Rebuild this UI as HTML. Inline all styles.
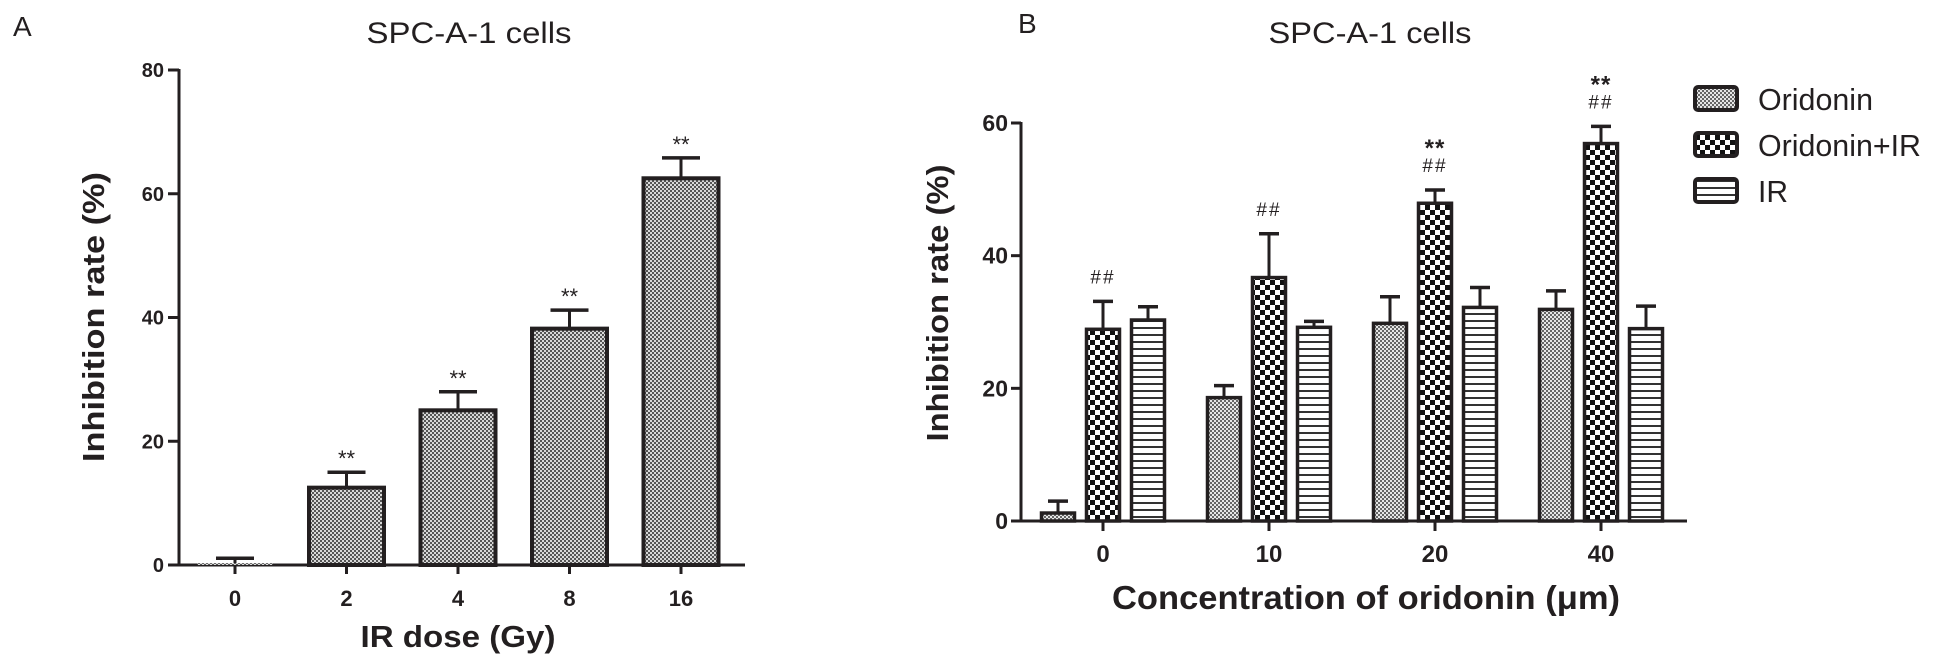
<!DOCTYPE html>
<html><head><meta charset="utf-8"><style>
html,body{margin:0;padding:0;background:#fff;}
svg{display:block;font-family:"Liberation Sans",Arial,sans-serif;}
</style></head><body>
<svg id="fig" width="1948" height="667" viewBox="0 0 1948 667" xmlns="http://www.w3.org/2000/svg">
<defs>
<pattern id="pA" width="4" height="4" patternUnits="userSpaceOnUse"><rect width="4" height="4" fill="#d8d8d8"/><rect width="2" height="2" fill="#555"/><rect x="2" y="2" width="2" height="2" fill="#555"/></pattern>
<pattern id="pOri" width="4" height="4" patternUnits="userSpaceOnUse"><rect width="4" height="4" fill="#e6e6e6"/><rect width="2" height="2" fill="#666"/><rect x="2" y="2" width="2" height="2" fill="#666"/></pattern>
<pattern id="pOIR" width="10" height="10" patternUnits="userSpaceOnUse"><rect width="10" height="10" fill="#fff"/><rect width="5" height="5" fill="#111"/><rect x="5" y="5" width="5" height="5" fill="#111"/></pattern>
<pattern id="pIR" width="7" height="7" patternUnits="userSpaceOnUse"><rect width="7" height="7" fill="#fff"/><rect y="5" width="7" height="2" fill="#333"/></pattern>
</defs>
<g id="panelA"></g>
<g id="panelB"></g>
</svg>
<script>
// Panel A data
const catsA = ["0","2","4","8","16"];
const valsA = [0.3, 12.5, 25.0, 38.2, 62.5];
const errsA = [0.8, 2.5, 3.0, 3.0, 3.3];
const sigA = ["", "**", "**", "**", "**"];
const ticksA = [0, 20, 40, 60, 80];
// Panel B data
const catsB = ["0","10","20","40"];
const seriesNames = ["Oridonin","Oridonin+IR","IR"];
const valsOri = [1.2, 18.6, 29.8, 31.9];
const errsOri = [1.8, 1.8, 4.0, 2.8];
const valsOIR = [28.9, 36.7, 47.9, 56.9];
const errsOIR = [4.2, 6.6, 2.0, 2.6];
const valsIR = [30.3, 29.2, 32.2, 29.0];
const errsIR = [2.0, 0.9, 3.0, 3.4];
const hashB = ["##","##","##","##"];
const starB = ["","","**","**"];
const ticksB = [0, 20, 40, 60];

const NS = "http://www.w3.org/2000/svg";
function mk(parent, tag, attrs, text){
  const e = document.createElementNS(NS, tag);
  for (const k in attrs) e.setAttribute(k, attrs[k]);
  if (text !== undefined) e.textContent = text;
  parent.appendChild(e);
  return e;
}
const dark = "#231f20";
const SG = "spacingAndGlyphs";

// ---------- Panel A ----------
(function(){
  const g = document.getElementById("panelA");
  const y0 = 565, yTop = 70, ax = 179;
  const yA = v => y0 - (v / 80) * (y0 - yTop);
  const xA = i => 235 + i * 111.5;
  const bw = 75;
  let t;
  t = mk(g, "text", {x: 13, y: 36, "font-size": 28, fill: dark}, "A");
  
  
  t = mk(g, "text", {x: 469, y: 43, "font-size": 30, "text-anchor": "middle", fill: dark, textLength: 205, lengthAdjust: SG}, "SPC-A-1 cells");
  
  
  let l = mk(g, "line", {x1: ax, y1: yTop - 1, x2: ax, y2: y0, stroke: dark, "stroke-width": 3});
  
  
  ticksA.forEach(v => {
    const tk = mk(g, "line", {x1: ax - 11, y1: yA(v), x2: ax, y2: yA(v), stroke: dark, "stroke-width": 3});
    
    
    const tl = mk(g, "text", {x: 164, y: yA(v) + 7, "font-size": 20, "font-weight": "bold", "text-anchor": "end", fill: dark}, String(v));
    
    
  });
  l = mk(g, "line", {x1: ax - 11, y1: y0, x2: 745, y2: y0, stroke: dark, "stroke-width": 3});
  
  
  catsA.forEach((c, i) => {
    const cx = xA(i);
    const tk = mk(g, "line", {x1: cx, y1: y0, x2: cx, y2: y0 + 9, stroke: dark, "stroke-width": 3});
    
    
    const tl = mk(g, "text", {x: cx, y: y0 + 41, "font-size": 22, "font-weight": "bold", "text-anchor": "middle", fill: dark}, c);
    
    
    const v = valsA[i], e = errsA[i];
    const top = yA(v), et = yA(v + e);
    const eb = mk(g, "line", {x1: cx, y1: et, x2: cx, y2: top, stroke: dark, "stroke-width": 3});
    
    
    const cap = mk(g, "line", {x1: cx - 19, y1: et, x2: cx + 19, y2: et, stroke: dark, "stroke-width": 3.5});
    
    
    const attrs = {x: cx - bw/2, y: top, width: bw, height: y0 - top, fill: "url(#pA)"};
    if (v > 1) { attrs.stroke = dark; attrs["stroke-width"] = 4; }
    const b = mk(g, "rect", attrs);
    
    
    if (sigA[i]) {
      const s = mk(g, "text", {x: cx, y: et - 6, "font-size": 22, "text-anchor": "middle", fill: dark}, sigA[i]);
      
      
    }
  });
  t = mk(g, "text", {x: 458, y: 647, "font-size": 31, "font-weight": "bold", "text-anchor": "middle", fill: dark, textLength: 195, lengthAdjust: SG}, "IR dose (Gy)");
  
  
  t = mk(g, "text", {x: 0, y: 0, "font-size": 31, "font-weight": "bold", "text-anchor": "middle", fill: dark, textLength: 290, lengthAdjust: SG, transform: "translate(104,317) rotate(-90)"}, "Inhibition rate (%)");
  
  
})();

// ---------- Panel B ----------
(function(){
  const g = document.getElementById("panelB");
  const y0 = 521, y60 = 123, ax = 1021;
  const yB = v => y0 - (v / 60) * (y0 - y60);
  const gx = i => 1103 + i * 166;
  const bw = 33, pitch = 45;
  const vals = [valsOri, valsOIR, valsIR];
  const errs = [errsOri, errsOIR, errsIR];
  const fills = ["url(#pOri)", "url(#pOIR)", "url(#pIR)"];
  let t;
  t = mk(g, "text", {x: 1018, y: 33, "font-size": 28, fill: dark}, "B");
  
  
  t = mk(g, "text", {x: 1370, y: 43, "font-size": 30, "text-anchor": "middle", fill: dark, textLength: 203, lengthAdjust: SG}, "SPC-A-1 cells");
  
  
  let l = mk(g, "line", {x1: ax, y1: y60 - 1, x2: ax, y2: y0, stroke: dark, "stroke-width": 3});
  
  
  ticksB.forEach(v => {
    const tk = mk(g, "line", {x1: ax - 10, y1: yB(v), x2: ax, y2: yB(v), stroke: dark, "stroke-width": 3});
    
    
    const tl = mk(g, "text", {x: 1008, y: yB(v) + 8, "font-size": 23, "font-weight": "bold", "text-anchor": "end", fill: dark}, String(v));
    
    
  });
  l = mk(g, "line", {x1: ax - 10, y1: y0, x2: 1687, y2: y0, stroke: dark, "stroke-width": 3});
  
  
  catsB.forEach((c, i) => {
    const cx = gx(i);
    const tk = mk(g, "line", {x1: cx, y1: y0, x2: cx, y2: y0 + 10, stroke: dark, "stroke-width": 3});
    
    
    const tl = mk(g, "text", {x: cx, y: y0 + 41, "font-size": 24, "font-weight": "bold", "text-anchor": "middle", fill: dark}, c);
    
    
    for (let s = 0; s < 3; s++) {
      const bx = cx + (s - 1) * pitch;
      const v = vals[s][i], e = errs[s][i];
      const top = yB(v), et = yB(v + e);
      const eb = mk(g, "line", {x1: bx, y1: et, x2: bx, y2: top, stroke: dark, "stroke-width": 3});
      
      
      const cap = mk(g, "line", {x1: bx - 10, y1: et, x2: bx + 10, y2: et, stroke: dark, "stroke-width": 3.5});
      
      
      const b = mk(g, "rect", {x: bx - bw/2, y: top, width: bw, height: y0 - top, fill: fills[s], stroke: dark, "stroke-width": 3.5});
      
      
      if (s === 1) {
        const h = mk(g, "text", {x: bx, y: et - 18, "font-size": 19, "text-anchor": "middle", fill: dark, "letter-spacing": "2"}, hashB[i]);
        
        
        if (starB[i]) {
          const st = mk(g, "text", {x: bx, y: et - 34, "font-size": 24, "font-weight": "bold", "text-anchor": "middle", fill: dark, "letter-spacing": "1"}, starB[i]);
          
          
        }
      }
    }
  });
  t = mk(g, "text", {x: 1366, y: 609, "font-size": 33, "font-weight": "bold", "text-anchor": "middle", fill: dark, textLength: 508, lengthAdjust: SG}, "Concentration of oridonin (μm)");
  
  
  t = mk(g, "text", {x: 0, y: 0, "font-size": 31, "font-weight": "bold", "text-anchor": "middle", fill: dark, textLength: 277, lengthAdjust: SG, transform: "translate(948,303) rotate(-90)"}, "Inhibition rate (%)");
  
  
  const legY = [85, 131, 177];
  seriesNames.forEach((n, s) => {
    const r = mk(g, "rect", {x: 1695, y: legY[s] + 2, width: 42, height: 23, rx: 3, fill: fills[s], stroke: dark, "stroke-width": 4});
    
    
    const lt = mk(g, "text", {x: 1758, y: legY[s] + 25, "font-size": 31, fill: dark, textLength: n === "IR" ? 30 : (n === "Oridonin" ? 115 : 163), lengthAdjust: SG}, n);
    
    
  });
})();
</script>
</body></html>
